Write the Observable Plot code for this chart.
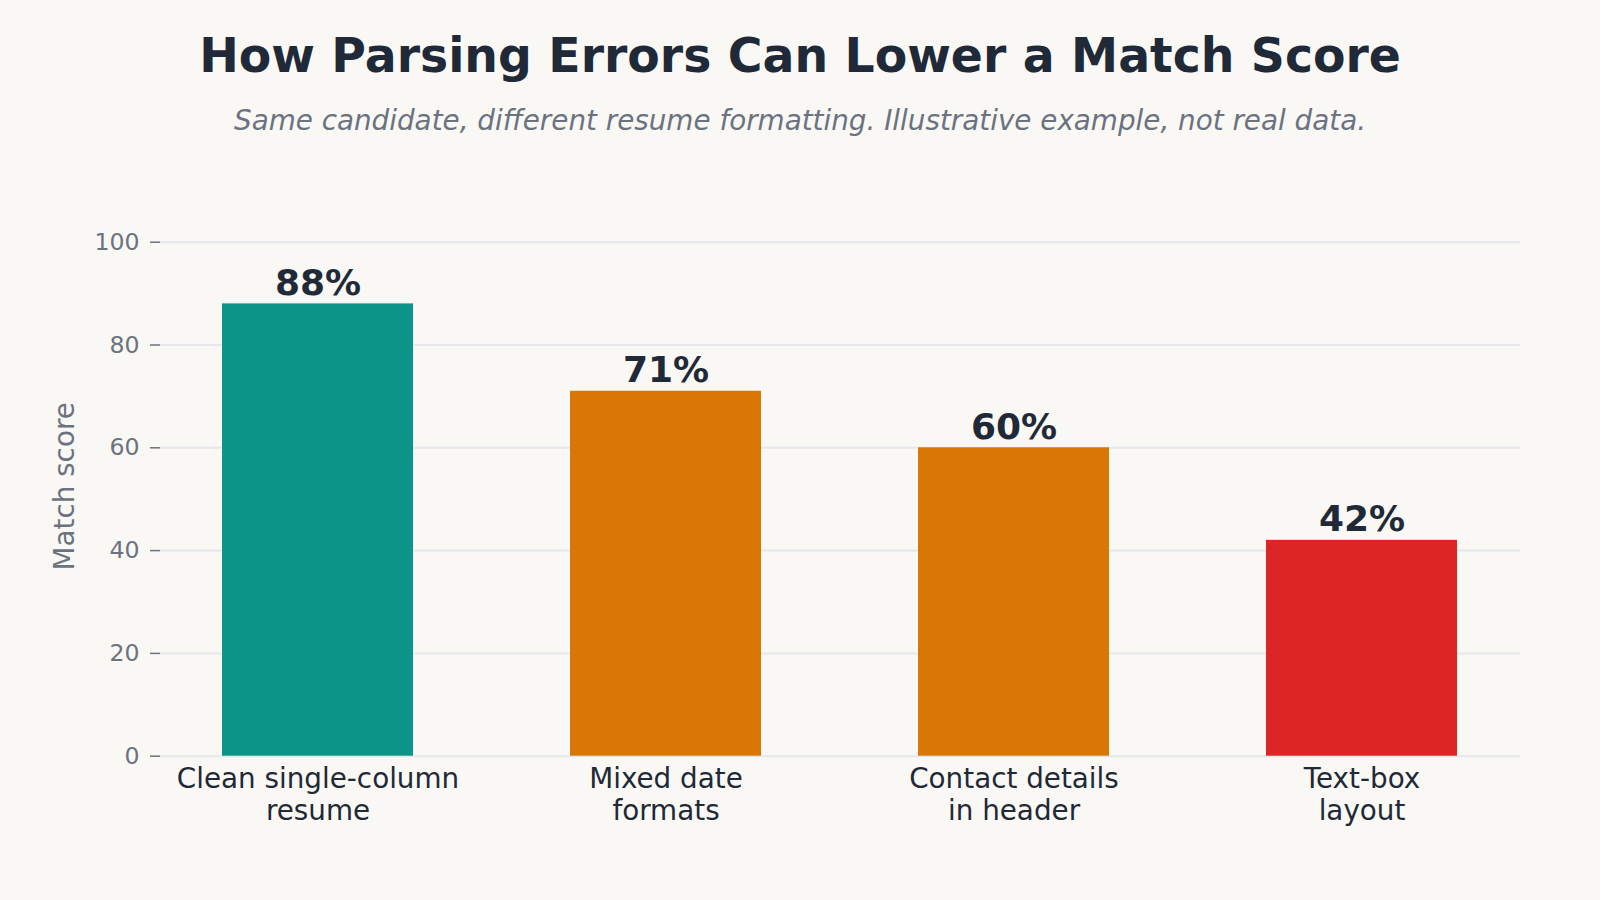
<!DOCTYPE html>
<html>
<head>
<meta charset="utf-8">
<script src="https://cdn.jsdelivr.net/npm/d3@7"></script>
<script src="https://cdn.jsdelivr.net/npm/@observablehq/plot@0.6"></script>
<style>
  html, body { margin: 0; padding: 0; background: #f9f8f4; }
  body { width: 1600px; height: 900px; position: relative; overflow: hidden; font-family: "DejaVu Sans", sans-serif; }
  #title { position: absolute; left: 0; width: 1600px; top: 31.7px; text-align: center; font-size: 47.3px; line-height: 1; font-weight: bold; color: #1f2937; }
  #subtitle { position: absolute; left: 0; width: 1600px; top: 106.5px; text-align: center; font-size: 27.8px; line-height: 1; font-style: italic; color: #6b7280; }
  #chart { position: absolute; left: 0; top: 160px; }
</style>
</head>
<body>
<div id="title">How Parsing Errors Can Lower a Match Score</div>
<div id="subtitle">Same candidate, different resume formatting. Illustrative example, not real data.</div>
<div id="chart"></div>
<script>
// ---- data ----
const categories = [
  "Clean single-column\nresume",
  "Mixed date\nformats",
  "Contact details\nin header",
  "Text-box\nlayout"
];
const scores = [88, 71, 60, 42];
const yTicks = [0, 20, 40, 60, 80, 100];
const barColors = ["#0d9488", "#d97706", "#d97706", "#dc2626"];
const yLabel = "Match score";

const rows = categories.map((c, i) => ({category: c, score: scores[i]}));

const chart = Plot.plot({
  width: 1600,
  height: 740,
  marginLeft: 160,
  marginRight: 80,
  marginTop: 56,
  marginBottom: 144.3,
  style: {background: "transparent", fontFamily: "DejaVu Sans, sans-serif", color: "#6b7280", overflow: "visible"},
  x: {domain: categories, paddingInner: 0.45, paddingOuter: 0.176, axis: null},
  y: {domain: [0, 105], axis: null},
  color: {domain: categories, range: barColors},
  marks: [
    Plot.gridY(yTicks, {stroke: "#e5e7eb", strokeOpacity: 1, strokeWidth: 2}),
    Plot.barY(rows, {x: "category", y: "score", fill: "category"}),
    Plot.text(rows, {
      x: "category", y: "score", text: d => `${d.score}%`,
      lineAnchor: "bottom", dy: -9, fontSize: 36, fontWeight: "bold", fill: "#1f2937"
    }),
    Plot.axisY({
      ticks: yTicks, tickSize: 10, tickPadding: 11, fontSize: 23.6,
      stroke: "#6b7280", strokeWidth: 1.5, fill: "#6b7280", label: null
    }),
    Plot.axisX({
      tickSize: 0, tickPadding: 9.5, fontSize: 27.8, lineHeight: 1.15,
      fill: "#1f2937", label: null, tickFormat: d => d
    }),
    Plot.text([yLabel], {
      frameAnchor: "left", text: d => d, rotate: -90, dx: -95,
      fontSize: 27.8, fill: "#6b7280", textAnchor: "middle"
    })
  ]
});
document.getElementById("chart").appendChild(chart);
</script>
</body>
</html>
